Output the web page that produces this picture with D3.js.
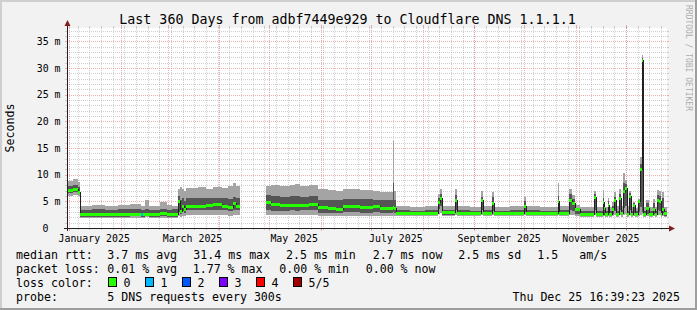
<!DOCTYPE html>
<html lang="en">
<head>
<meta charset="UTF-8">
<title>Last 360 Days to Cloudflare DNS</title>
<script src="https://d3js.org/d3.v7.min.js"></script>
<style>
  body { margin: 0; background: #fff; }
  svg text { font-family: "DejaVu Sans Mono", monospace; fill: #000; }
</style>
</head>
<body>
<svg width="697" height="310"></svg>
<script>
// days since start of window; each entry holds until the next one (null = no data)
const days = [
  0, 3.6, 6.6,
  7.8, 15.0, 22.8, 30.6, 37.8, 44.4, 46.8, 49.2, 55.8, 60.0, 63.0,
  66.6, 67.8, 69.0, 70.2, 71.4, 78.6, 83.4, 87.6, 93.0, 96.6, 99.6, 101.4,
  103.8,
  119.4, 122.4, 127.8, 133.8, 136.8, 139.8, 145.2,
  150.6, 156.6, 161.4, 165.6, 171.0, 175.8, 183.6, 187.8, 195.6, 196.2,
  197.4, 205.8, 214.8, 222.6, 223.8, 225.0, 232.8, 234.0, 241.8, 248.4, 249.6,
  255.0, 256.2, 265.8, 274.2, 275.4, 283.8, 294.6, 295.2, 301.2, 303.0, 304.8,
  307.8, 316.2, 317.4, 321.6, 322.2, 322.8, 324.6, 325.2, 327.0, 328.2, 329.4,
  331.2, 332.4, 333.6, 334.8, 336.0, 337.2, 338.4, 339.6, 340.8, 342.6, 343.8,
  345.0, 345.6, 347.4, 349.2, 351.6, 352.8, 354.0, 355.2, 356.4, 357.0, 358.2
];
// the five sorted pings (ms)
const pingMin = [
  6.0, 6.1, 6.0,
  1.9, 1.9, 1.9, 1.9, 1.9, 1.9, 2.0, 1.9, 1.9, 1.9, 1.9,
  2.2, 2.1, 2.3, 2.2, 2.4, 2.4, 2.4, 2.4, 2.4, 2.3, 2.4, 2.4,
  null,
  2.5, 2.5, 2.5, 2.5, 2.5, 2.5, 2.5,
  2.3, 2.3, 2.2, 2.3, 2.3, 2.3, 2.3, 2.2, 2.3, 2.2,
  2.2, 2.2, 2.2, 2.6, 2.8, 2.2, 2.5, 2.2, 2.2, 2.5, 2.2,
  2.4, 2.2, 2.2, 2.4, 2.2, 2.2, 2.4, 2.2, 2.4, 2.4, 2.2,
  2.1, 2.4, 2.1, 2.3, 2.2, 2.1, 2.3, 2.1, 2.2, 2.4, 2.1,
  2.4, 2.1, 2.5, 2.6, 2.1, 2.4, 2.1, 2.3, 2.1, 2.3, 2.5,
  2.6, 2.1, 2.2, 2.1, 2.2, 2.1, 2.4, 2.4, 2.1, 2.3, 2.1
];
const pingLow = [
  6.6, 6.7, 6.4,
  2.1, 2.1, 2.1, 2.1, 2.2, 2.1, 2.2, 2.1, 2.2, 2.1, 2.1,
  3.0, 2.6, 3.2, 2.8, 3.3, 3.3, 3.4, 3.4, 3.3, 3.2, 3.4, 3.3,
  null,
  3.3, 3.2, 3.2, 3.3, 3.2, 3.3, 3.3,
  2.9, 2.9, 2.8, 3.0, 3.0, 2.9, 3.0, 2.9, 3.0, 2.9,
  2.4, 2.4, 2.4, 3.5, 4.2, 2.5, 3.4, 2.5, 2.4, 3.3, 2.4,
  3.2, 2.4, 2.4, 3.0, 2.4, 2.4, 3.0, 2.4, 3.3, 3.2, 2.6,
  2.3, 3.3, 2.3, 2.9, 2.4, 2.3, 2.8, 2.3, 2.6, 3.2, 2.3,
  3.4, 2.4, 3.8, 4.2, 2.3, 3.4, 2.3, 2.8, 2.3, 3.0, 4.0,
  3.0, 2.3, 2.6, 2.3, 2.7, 2.3, 3.3, 3.2, 2.3, 2.8, 2.3
];
const pingMedian = [
  7.0, 7.3, 6.7,
  2.6, 2.5, 2.6, 2.55, 2.6, 2.6, 2.6, 2.55, 2.7, 2.6, 2.6,
  4.9, 3.1, 4.1, 3.4, 4.0, 4.1, 4.2, 4.4, 4.1, 3.9, 4.6, 4.0,
  null,
  4.8, 4.4, 4.25, 4.3, 4.2, 4.3, 4.4,
  3.8, 3.6, 3.4, 4.1, 4.0, 3.9, 4.1, 3.7, 3.8, 3.7,
  2.7, 2.7, 2.7, 4.8, 5.6, 2.95, 5.25, 2.8, 2.7, 5.1, 2.7,
  4.6, 2.65, 2.7, 4.0, 2.7, 2.7, 4.9, 2.7, 5.25, 4.6, 3.4,
  2.55, 5.8, 2.6, 4.8, 3.7, 2.6, 4.3, 2.6, 3.5, 5.1, 2.6,
  5.6, 2.7, 6.8, 7.4, 2.6, 6.0, 2.6, 4.3, 2.6, 4.9, 11.0,
  31.4, 2.6, 3.7, 2.6, 3.4, 2.6, 5.25, 4.9, 2.6, 3.4, 2.7
];
const pingHigh = [
  7.8, 8.0, 7.6,
  3.4, 3.5, 3.4, 3.5, 3.5, 3.4, 3.6, 3.4, 3.5, 3.4, 3.5,
  6.0, 5.2, 5.6, 5.0, 5.6, 5.6, 5.7, 5.7, 5.6, 5.5, 5.9, 5.6,
  null,
  6.2, 6.0, 5.9, 6.0, 6.0, 5.9, 6.0,
  5.3, 5.3, 5.2, 5.5, 5.4, 5.4, 5.3, 5.2, 8.5, 5.2,
  3.3, 3.2, 3.3, 5.6, 6.4, 3.4, 6.2, 3.3, 3.2, 5.9, 3.3,
  5.8, 3.2, 3.3, 5.0, 3.3, 3.2, 6.0, 3.3, 6.3, 5.4, 3.8,
  3.1, 6.3, 3.1, 5.6, 4.0, 3.2, 5.0, 3.2, 4.2, 5.9, 3.2,
  6.4, 3.3, 8.5, 8.2, 3.2, 6.5, 3.2, 4.6, 3.1, 5.1, 12.0,
  31.8, 3.1, 4.6, 3.1, 4.6, 3.1, 6.2, 6.0, 3.1, 5.6, 3.1
];
const pingMax = [
  8.8, 9.1, 8.6,
  4.2, 4.4, 4.1, 4.3, 4.5, 4.2, 5.2, 4.2, 4.9, 4.3, 4.1,
  7.4, 7.6, 7.4, 7.0, 7.5, 7.7, 7.4, 7.6, 7.5, 7.8, 8.4, 7.9,
  null,
  7.9, 8.1, 7.8, 8.0, 8.3, 7.8, 8.0,
  7.3, 7.2, 7.0, 7.4, 7.3, 7.2, 7.0, 6.8, 16.3, 6.9,
  4.1, 3.9, 4.2, 6.4, 7.4, 4.2, 7.25, 4.1, 4.0, 6.9, 4.1,
  6.8, 4.0, 4.2, 5.9, 4.1, 4.0, 8.4, 4.1, 7.25, 6.2, 4.3,
  3.9, 6.9, 4.0, 7.1, 4.4, 4.0, 5.6, 4.0, 4.8, 6.8, 4.1,
  7.4, 4.2, 10.25, 9.0, 4.1, 6.9, 4.0, 4.9, 3.8, 5.5, 13.4,
  32.5, 4.0, 5.25, 4.0, 5.4, 4.0, 7.1, 6.9, 4.0, 6.8, 4.0
];
// short stretch where one of five pings was lost
const lossStart = [44.4];
const lossEnd = [45.6];
const lossValue = [1];

const yTicks = [0, 5, 10, 15, 20, 25, 30, 35];
const lossColors = ["#26ff00", "#00b8ff", "#0059ff", "#7e00ff", "#ff0000", "#a10000"];
const lossLabels = ["0", "1", "2", "3", "4", "5/5"];

const DAY = 86400000;
const end = new Date(Date.UTC(2025, 11, 25, 16, 39, 23));
const start = new Date(end.getTime() - 360 * DAY);

const W = 697, H = 310;
const X0 = 67, X1 = 667, Y0 = 228, Y1 = 28;

const svg = d3.select("svg");

const x = d3.scaleUtc().domain([start, end]).range([X0, X1]);
const y = d3.scaleLinear().domain([0, 37.5]).range([Y0, Y1]);

// background with rrdtool style shading
svg.append("rect").attr("width", W).attr("height", H).attr("fill", "#f2f2f2");
svg.append("path").attr("d", `M0,0H${W}V2H2V${H}H0Z`).attr("fill", "#cfcfcf");
svg.append("path").attr("d", `M${W},${H}H0V${H - 2}H${W - 2}V0H${W}Z`).attr("fill", "#9e9e9e");
svg.append("rect").attr("x", X0).attr("y", Y1).attr("width", X1 - X0).attr("height", Y0 - Y1).attr("fill", "#fff");

const grid = svg.append("g").attr("shape-rendering", "crispEdges");
const minorCol = "rgba(150,150,150,0.45)";
const majorCol = "rgba(222,79,79,0.45)";

// horizontal grid
for (let v = 1; v <= 37; v++) {
  const major = v % 5 === 0;
  const py = Math.round(y(v)) + 0.5;
  const col = major ? majorCol : minorCol;
  grid.append("line").attr("x1", X0).attr("x2", X1).attr("y1", py).attr("y2", py)
    .attr("stroke", col).attr("stroke-dasharray", "1,1");
  grid.append("line").attr("x1", X0 - 2).attr("x2", X0).attr("y1", py).attr("y2", py).attr("stroke", col);
  grid.append("line").attr("x1", X1).attr("x2", X1 + 2).attr("y1", py).attr("y2", py).attr("stroke", col);
}

// vertical grid: weeks minor, months major
const months = d3.utcMonth.range(start, end);
const weeks = d3.utcMonday.range(start, end);
weeks.forEach(t => {
  const px = Math.round(x(t)) + 0.5;
  grid.append("line").attr("x1", px).attr("x2", px).attr("y1", Y1).attr("y2", Y0)
    .attr("stroke", minorCol).attr("stroke-dasharray", "1,1");
  grid.append("line").attr("x1", px).attr("x2", px).attr("y1", Y1 - 2).attr("y2", Y1).attr("stroke", minorCol);
  grid.append("line").attr("x1", px).attr("x2", px).attr("y1", Y0).attr("y2", Y0 + 2).attr("stroke", minorCol);
});
months.forEach(t => {
  const px = Math.round(x(t)) + 0.5;
  grid.append("line").attr("x1", px).attr("x2", px).attr("y1", Y1).attr("y2", Y0)
    .attr("stroke", majorCol).attr("stroke-dasharray", "1,1");
  grid.append("line").attr("x1", px).attr("x2", px).attr("y1", Y1 - 3).attr("y2", Y1).attr("stroke", majorCol);
  grid.append("line").attr("x1", px).attr("x2", px).attr("y1", Y0).attr("y2", Y0 + 3).attr("stroke", majorCol);
});

// build step rows
const rows = [];
days.forEach((d, i) => {
  const t = new Date(start.getTime() + d * DAY);
  if (pingMedian[i] == null && rows.length) {
    rows.push(Object.assign({}, rows[rows.length - 1], { t }));
  }
  rows.push({ t, lo: pingMin[i], q1: pingLow[i], med: pingMedian[i], q3: pingHigh[i], hi: pingMax[i] });
});
rows.push(Object.assign({}, rows[rows.length - 1], { t: end }));

const defined = d => d.med != null;
const band = (a, b) => d3.area().defined(defined).curve(d3.curveStepAfter)
  .x(d => x(d.t)).y0(d => y(d[a])).y1(d => y(d[b]));

const plot = svg.append("g").attr("shape-rendering", "crispEdges");
plot.append("path").datum(rows).attr("d", band("lo", "hi")).attr("fill", "#a4a4a4");
plot.append("path").datum(rows).attr("d", band("q1", "q3")).attr("fill", "#555555");

plot.append("path").datum(rows)
  .attr("d", d3.line().defined(defined).curve(d3.curveStepAfter).x(d => x(d.t)).y(d => y(d.med)))
  .attr("fill", "none").attr("stroke", "#202020").attr("stroke-width", 1);

plot.append("path").datum(rows)
  .attr("d", d3.area().defined(defined).curve(d3.curveStepAfter)
    .x(d => x(d.t)).y0(d => y(d.med) + 1.5).y1(d => y(d.med) - 1.5))
  .attr("fill", lossColors[0]);

lossStart.forEach((s, i) => {
  const ts = new Date(start.getTime() + s * DAY);
  const te = new Date(start.getTime() + lossEnd[i] * DAY);
  const row = rows.filter(r => r.t <= ts).pop();
  plot.append("rect").attr("x", x(ts)).attr("width", x(te) - x(ts))
    .attr("y", y(row.med) - 1.5).attr("height", 3).attr("fill", lossColors[lossValue[i]]);
});

// axes
const axis = svg.append("g").attr("shape-rendering", "crispEdges");
axis.append("line").attr("x1", X0 - 3).attr("x2", X1 + 4).attr("y1", Y0 + 0.5).attr("y2", Y0 + 0.5).attr("stroke", "#1f1f1f");
axis.append("line").attr("x1", X0 + 0.5).attr("x2", X0 + 0.5).attr("y1", Y0 + 3).attr("y2", Y1 - 4).attr("stroke", "#1f1f1f");
svg.append("path").attr("d", `M${X1 + 2},${Y0 - 2.5}L${X1 + 8},${Y0 + 0.5}L${X1 + 2},${Y0 + 3.5}Z`).attr("fill", "#7f1f1f");
svg.append("path").attr("d", `M${X0 - 2.5},${Y1 - 2}L${X0 + 0.5},${Y1 - 8}L${X0 + 3.5},${Y1 - 2}Z`).attr("fill", "#7f1f1f");

// y labels
svg.append("g").selectAll("text").data(yTicks).join("text")
  .attr("x", d => d === 0 ? 48.5 : 60.5)
  .attr("y", d => y(d) + 3.5)
  .attr("text-anchor", "end")
  .attr("font-size", "9.9px")
  .text(d => d === 0 ? "0" : d + " m");

// x labels: every second month, centred on mid-month
const labelMonths = d3.utcMonth.every(2).range(d3.utcMonth.ceil(start), end)
  .filter(t => t.getUTCMonth() % 2 === 0);
svg.append("g").selectAll("text").data(labelMonths).join("text")
  .attr("x", d => x(new Date(d.getTime() + 15 * DAY)))
  .attr("y", 241.5)
  .attr("text-anchor", "middle")
  .attr("font-size", "9.9px")
  .text(d => d3.utcFormat("%B %Y")(d));

// title, unit, watermark
svg.append("text").attr("x", 347.5).attr("y", 24).attr("text-anchor", "middle")
  .attr("font-size", "13.3px").text("Last 360 Days from adbf7449e929 to Cloudflare DNS 1.1.1.1");
svg.append("text").attr("transform", "translate(14,128) rotate(-90)").attr("text-anchor", "middle")
  .attr("font-size", "11.6px").text("Seconds");
svg.append("text").attr("transform", "translate(686,5) rotate(90)").attr("text-anchor", "start")
  .attr("font-size", "8px").style("fill", "#000").style("opacity", 0.3).text("RRDTOOL / TOBI OETIKER");

// legend
const legend = svg.append("g").attr("font-size", "11.6px");
const legendItems = [
  [16, 258.5, "median rtt:"], [107.3, 258.5, "3.7 ms avg"], [193.3, 258.5, "31.4 ms max"],
  [286, 258.5, "2.5 ms min"], [372.7, 258.5, "2.7 ms now"], [458.3, 258.5, "2.5 ms sd"],
  [537.3, 258.5, "1.5"], [579.3, 258.5, "am/s"],
  [16, 272.5, "packet loss:"], [107.3, 272.5, "0.01 % avg"], [192.7, 272.5, "1.77 % max"],
  [279.3, 272.5, "0.00 % min"], [365.7, 272.5, "0.00 % now"],
  [16, 286.5, "loss color:"],
  [16, 300.5, "probe:"], [107.3, 300.5, "5 DNS requests every 300s"]
];
legend.selectAll("text.item").data(legendItems).join("text").attr("class", "item")
  .attr("x", d => d[0]).attr("y", d => d[1]).text(d => d[2]);

lossLabels.forEach((lab, i) => {
  const bx = 108.5 + i * 37;
  legend.append("rect").attr("x", bx).attr("y", 277.5).attr("width", 8).attr("height", 9)
    .attr("fill", lossColors[i]).attr("stroke", "#000").attr("stroke-width", 1);
  legend.append("text").attr("x", bx + 15).attr("y", 286.5).text(lab);
});

legend.append("text").attr("x", 680).attr("y", 300.5).attr("text-anchor", "end")
  .text("Thu Dec 25 16:39:23 2025");
</script>
</body>
</html>
